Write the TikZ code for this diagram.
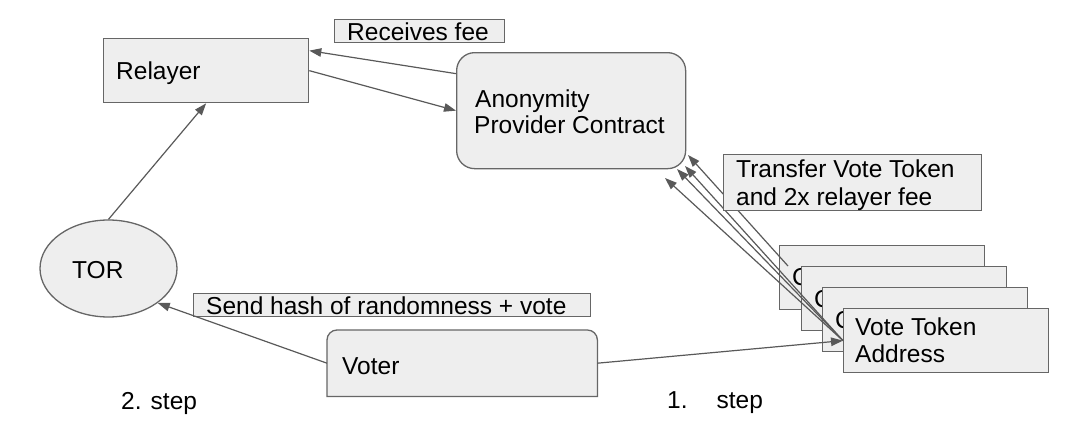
\documentclass[tikz,border=0pt]{standalone}
\usepackage{fontspec}
\setmainfont{Liberation Sans}
\usetikzlibrary{shapes.geometric,arrows.meta}
\definecolor{boxline}{HTML}{666666}
\definecolor{boxfill}{HTML}{EEEEEE}
\definecolor{arrowc}{HTML}{595959}
\begin{document}
\begin{tikzpicture}[x=1pt,y=-1pt,
  box/.style={draw=boxline, fill=boxfill, line width=1.3pt, inner sep=0pt, anchor=north west},
  txt/.style={font=\fontsize{24.5}{29}\selectfont, inner sep=0pt, anchor=base west, text=black},
  conn/.style={draw=arrowc, line width=1.2pt, -{Triangle[length=12pt,width=8.5pt]}}]
\useasboundingbox (0,0) rectangle (1072,439);

% main boxes
\node[box, minimum width=205pt, minimum height=64pt] (relayer) at (103,38) {};
\node[box, rounded corners=18pt, minimum width=229pt, minimum height=116pt] (contract) at (456,52) {};
\node[box, minimum width=170pt, minimum height=23pt] (feebox) at (334,19) {};
\node[ellipse, draw=boxline, fill=boxfill, line width=1.3pt, inner sep=0pt,
      minimum width=137pt, minimum height=97pt] (tor) at (108.5,268.5) {};
\node[draw=none, inner sep=0pt, anchor=north west, minimum width=270pt, minimum height=66pt] (voter) at (327,330) {};
\path[draw=boxline, fill=boxfill, line width=1.3pt]
  (voter.south west) -- ([yshift=-10pt]voter.north west)
  arc[start angle=180, end angle=90, radius=10pt]
  -- ([xshift=-10pt]voter.north east)
  arc[start angle=90, end angle=0, radius=10pt]
  -- (voter.south east) -- cycle;
\node[box, minimum width=397pt, minimum height=23pt] (hashbox) at (193,293) {};

% left connectors
\draw[conn] ([yshift=37pt]contract.west) -- ([yshift=20pt]relayer.east);
\draw[conn] (relayer.east) -- (contract.west);
\draw[conn] (tor.north) -- (relayer.south);
\draw[conn] (voter.west) -- (tor.-35);

% stacked vote token boxes
\node[box, minimum width=205pt, minimum height=64pt] (box1) at (779,245) {};
\node[txt] (c1) at (792,285) {C};
\node[box, minimum width=205pt, minimum height=64pt] (box2) at (801,266) {};
\node[txt] (c2) at (814,307) {C};
\node[box, minimum width=205pt, minimum height=64pt] (box3) at (822,287) {};
\node[txt] (c3) at (835,328) {C};
\node[box, minimum width=205pt, minimum height=64pt] (box4) at (843,308) {};

\coordinate (b1tail) at ([xshift=9pt,yshift=-21pt]box1.north west);
\coordinate (t6) at (688,155);
\coordinate (t7) at (685,166);
\coordinate (t8) at (677,169);
\coordinate (t9) at (665,178);
\draw[conn] (b1tail) -- (t6);
\draw[conn] (box4.west) -- (t7);
\draw[conn] (box4.west) -- (t8);
\draw[conn] (box4.west) -- (t9);
\draw[conn] (voter.east) -- (box4.west);

\node[box, minimum width=258pt, minimum height=56pt] (transfer) at (723,154) {};

% texts
\node[txt] (relayertxt) at (116,79) {Relayer};
\node[txt] (anon1) at (475,107) {Anonymity};
\node[txt] (anon2) at (474,133) {Provider Contract};
\node[txt] (fee) at (347,41) {Receives fee};
\node[txt] (tortxt) at (72,278) {TOR};
\node[txt] (votertxt) at (342,374) {Voter};
\node[txt] (hash) at (206,314) {Send hash of randomness + vote};
\node[txt] (tr1) at (736,177) {Transfer Vote Token};
\node[txt] (tr2) at (736,205) {and 2x relayer fee};
\node[txt] (vt1) at (855,335) {Vote Token};
\node[txt] (vt2) at (855,362) {Address};
\node[txt] (step2) at (121,409) {2. step};
\node[txt] (step1) at (667,408) {1.\hspace{29pt}step};
\end{tikzpicture}
\end{document}
